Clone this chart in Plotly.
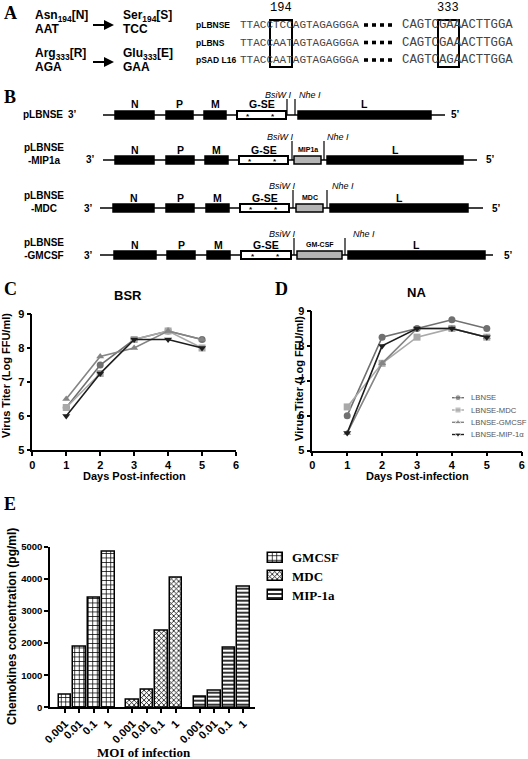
import plotly.graph_objects as go

W, H = 528, 759
def px(x): return x / W
def py(y): return 1 - y / H

# ---------------- data ----------------
days = [1, 2, 3, 4, 5]
series_names = ["LBNSE", "LBNSE-MDC", "LBNSE-GMCSF", "LBNSE-MIP-1α"]
series_colors = ["#707070", "#a9a9a9", "#858585", "#1e1e1e"]
series_symbols = ["circle", "square", "triangle-up", "triangle-down"]

bsr_lbnse = [6.25, 7.5, 8.25, 8.5, 8.25]
bsr_mdc = [6.25, 7.25, 8.25, 8.5, 8.0]
bsr_gmcsf = [6.5, 7.75, 8.0, 8.5, 8.25]
bsr_mip = [6.0, 7.25, 8.25, 8.25, 8.0]

na_lbnse = [6.0, 8.25, 8.5, 8.75, 8.5]
na_mdc = [6.25, 7.5, 8.25, 8.5, 8.25]
na_gmcsf = [5.5, 7.5, 8.5, 8.5, 8.25]
na_mip = [5.5, 8.0, 8.5, 8.5, 8.25]

moi_labels = ["0.001", "0.01", "0.1", "1"]
chemokines = ["GMCSF", "MDC", "MIP-1a"]
gmcsf_conc = [380, 1880, 3420, 4830]
mdc_conc = [250, 550, 2400, 4030]
mip1a_conc = [340, 530, 1850, 3770]

fig = go.Figure()

# ---------------- panels C and D ----------------
bsr = [bsr_lbnse, bsr_mdc, bsr_gmcsf, bsr_mip]
na = [na_lbnse, na_mdc, na_gmcsf, na_mip]
for k in range(4):
    for vals, xa, ya in [(bsr, "x", "y"), (na, "x2", "y2")]:
        fig.add_trace(go.Scatter(
            x=days, y=vals[k], mode="lines+markers", xaxis=xa, yaxis=ya,
            line=dict(color=series_colors[k], width=1.6),
            marker=dict(symbol=series_symbols[k], size=7, color=series_colors[k]),
            showlegend=False, cliponaxis=False, name=series_names[k]))

# manual legend for D (samples on overlay axis)
leg_rows = [397.7, 410, 422.3, 434.5]
for k in range(4):
    fig.add_trace(go.Scatter(
        x=[452, 458, 464], y=[leg_rows[k]] * 3, mode="lines+markers",
        xaxis="x4", yaxis="y4",
        line=dict(color=series_colors[k], width=1.4),
        marker=dict(symbol=series_symbols[k], size=[0, 6, 0], color=series_colors[k]),
        showlegend=False, hoverinfo="skip"))

# ---------------- panel E ----------------
patterns = [dict(shape="+", size=4.5, solidity=0.3, fgcolor="black", bgcolor="white"),
            dict(shape="x", size=3.5, solidity=0.4, fgcolor="black", bgcolor="white"),
            dict(shape="-", size=4, solidity=0.4, fgcolor="black", bgcolor="white")]
group_step = 4.65
all_pos, all_lab = [], []
for g, vals in enumerate([gmcsf_conc, mdc_conc, mip1a_conc]):
    pos = [g * group_step + i for i in range(len(moi_labels))]
    all_pos += pos
    all_lab += moi_labels
    fig.add_trace(go.Bar(
        x=pos, y=vals, name=chemokines[g], xaxis="x3", yaxis="y3", width=0.87,
        marker=dict(color="white", pattern=patterns[g], line=dict(color="black", width=1.5)),
        showlegend=False))

# manual legend for E (pattern swatches on overlay axis)
e_leg_rows = [557.7, 576.3, 595]
for g in range(3):
    fig.add_trace(go.Bar(
        x=[275.5], y=[10], base=[e_leg_rows[g] - 5], width=15, xaxis="x4", yaxis="y4",
        marker=dict(color="white", pattern=patterns[g], line=dict(color="black", width=1.5)),
        showlegend=False, hoverinfo="skip"))

axis_common = dict(showline=True, linecolor="black", linewidth=1.5, ticks="outside",
                   tickwidth=1.5, ticklen=4, tickcolor="black", showgrid=False,
                   zeroline=False, automargin=False,
                   tickfont=dict(family="Arial", size=11, color="black", weight="bold"))

fig.update_layout(
    template="none",
    width=W, height=H, autosize=False,
    margin=dict(l=0, r=0, t=0, b=0, pad=0, autoexpand=False),
    paper_bgcolor="white", plot_bgcolor="rgba(0,0,0,0)",
    showlegend=False,
    xaxis=dict(domain=[px(32.3), px(236)], range=[0, 6], dtick=1, anchor="y", **axis_common),
    yaxis=dict(domain=[py(450), py(314)], range=[5, 9], dtick=1, anchor="x", **axis_common),
    xaxis2=dict(domain=[px(312.3), px(521.7)], range=[0, 6], dtick=1, anchor="y2", **axis_common),
    yaxis2=dict(domain=[py(450.5), py(311)], range=[5, 9], dtick=1, anchor="x2", **axis_common),
    xaxis3=dict(domain=[px(50), px(255)], range=[-1.03, 13.1], anchor="y3",
                tickmode="array", tickvals=all_pos, ticktext=all_lab, tickangle=-45,
                **{**axis_common, "tickfont": dict(family="Arial", size=11, color="black", weight="bold")}),
    yaxis3=dict(domain=[py(707.3), py(546.7)], range=[0, 5000], dtick=1000, anchor="x3",
                **{**axis_common, "tickfont": dict(family="Arial", size=9.5, color="black", weight="bold")}),
    xaxis4=dict(domain=[0, 1], range=[0, W], visible=False, anchor="y4", automargin=False),
    yaxis4=dict(domain=[0, 1], range=[H, 0], visible=False, anchor="x4", automargin=False),
    bargap=0, barmode="overlay",
)

ann = []
shapes = []

def text(x, y, s, size=10, family="Arial", color="black", bold=True, anchor="center",
         vanchor="middle", angle=0, italic=False):
    ann.append(dict(x=px(x), y=py(y), xref="paper", yref="paper", text=s, showarrow=False,
                    xanchor=anchor, yanchor=vanchor, textangle=angle,
                    font=dict(family=family, size=size, color=color,
                              weight="bold" if bold else "normal",
                              style="italic" if italic else "normal")))

def rect(x0, y0, x1, y1, fill="black", lw=1.5, lc="black"):
    shapes.append(dict(type="rect", xref="paper", yref="paper", x0=px(x0), x1=px(x1),
                       y0=py(y0), y1=py(y1), fillcolor=fill, line=dict(color=lc, width=lw)))

def line(x0, y0, x1, y1, lw=1.5):
    shapes.append(dict(type="line", xref="paper", yref="paper", x0=px(x0), x1=px(x1),
                       y0=py(y0), y1=py(y1), line=dict(color="black", width=lw)))

# panel letters
for lab, (x, y) in zip("ABCDE", [(2, 13), (2, 97), (2, 289), (273, 289), (2, 504)]):
    text(x, y, lab, size=18, family="Liberation Serif", anchor="left")

# ---------------- panel A ----------------
text(33, 16, "Asn<sub>194</sub>[N]", size=12, anchor="left")
text(33, 29, "AAT", size=12, anchor="left")
text(121, 16, "Ser<sub>194</sub>[S]", size=12, anchor="left")
text(121, 29, "TCC", size=12, anchor="left")
text(33, 54, "Arg<sub>333</sub>[R]", size=12, anchor="left")
text(33, 67, "AGA", size=12, anchor="left")
text(121, 54, "Glu<sub>333</sub>[E]", size=12, anchor="left")
text(121, 67, "GAA", size=12, anchor="left")
for ya in [25, 62]:
    ann.append(dict(x=px(114), y=py(ya), xref="paper", yref="paper", ax=-24, ay=0,
                    text=" ", showarrow=True, arrowhead=2, arrowwidth=2, arrowsize=1,
                    arrowcolor="black"))

seq_names = ["pLBNSE", "pLBNS", "pSAD L16"]
seq_left = ["TTACCTCCAGTAGAGGGA", "TTACCAATAGTAGAGGGA", "TTACCAATAGTAGAGGGA"]
seq_right = ["CAGTCGAAACTTGGA", "CAGTCGAAACTTGGA", "CAGTCAGAACTTGGA"]
seq_y = [25, 42.5, 60]
for n, l, r, y in zip(seq_names, seq_left, seq_right, seq_y):
    text(194, y, n, size=8.5, anchor="left")
    text(238, y, l, size=11, family="Liberation Mono", color="#444", bold=False, anchor="left")
    text(400, y, r, size=12.3, family="Liberation Mono", color="#444", bold=False, anchor="left")
    for i in range(4):
        rect(364 + i * 8, y - 1.8, 368 + i * 8, y + 1.8, lw=0)
rect(270, 20, 292, 67, fill="rgba(0,0,0,0)", lw=2)
rect(438, 20, 459, 67, fill="rgba(0,0,0,0)", lw=2)
text(281, 8, "194", size=12, family="Liberation Mono", bold=False)
text(448, 8, "333", size=12, family="Liberation Mono", bold=False)

# ---------------- panel B ----------------
construct_names = ["pLBNSE", "pLBNSE<br>-MIP1a", "pLBNSE<br>-MDC", "pLBNSE<br>-GMCSF"]
row_y = [115, 160, 208, 255]
line_x = [(103, 445), (103, 477), (100, 483), (100, 493)]
N_seg = [(115, 154), (115, 154), (113, 154), (114, 156)]
P_seg = [(166, 193), (166, 194), (166, 194), (167, 195)]
M_seg = [(204, 226), (205, 228), (206, 229), (207, 230)]
G_seg = [(237, 286), (239, 288), (240, 289), (241, 291)]
ins_seg = [None, (294, 321, "MIP1a"), (296, 323, "MDC"), (297, 342, "GM-CSF")]
L_seg = [(298, 431), (327, 463), (330, 468), (348, 485)]
bsiw_x = [287, 292, 293, 294]
nhe_x = [295, 324, 327, 345]
enz_y = [95, 137, 186, 234]
bsiw_lab_x = [278, 280, 282, 282]
nhe_lab_x = [310, 338, 343, 364]
three_x = [72, 90, 88, 88]
five_x = [455, 490, 496, 508]
name_x = [43, 44, 44, 44]

for r in range(4):
    y = row_y[r]
    if r == 0:
        text(name_x[r], y, construct_names[r], size=10)
    else:
        text(name_x[r], y - 6, construct_names[r], size=10)
    text(three_x[r], y, "3’", size=10)
    text(five_x[r], y, "5’", size=10)
    line(line_x[r][0], y, line_x[r][1], y, lw=1.5)
    for seg, lab in [(N_seg[r], "N"), (P_seg[r], "P"), (M_seg[r], "M"), (L_seg[r], "L")]:
        rect(seg[0], y - 4, seg[1], y + 4)
        text((seg[0] + seg[1]) / 2, y - 10.5, lab, size=10.5)
    g0, g1 = G_seg[r]
    rect(g0, y - 4, g1, y + 4, fill="white", lw=2)
    text((g0 + g1) / 2, y - 10.5, "G-SE", size=10.5)
    for f in (0.23, 0.73):
        text(g0 + f * (g1 - g0), y + 1.5, "*", size=8)
    if ins_seg[r] is not None:
        a, b, lab = ins_seg[r]
        rect(a, y - 4, b, y + 4, fill="#b4b4b4", lw=1.5)
        text((a + b) / 2, y - 10.5, lab, size=7)
    line(bsiw_x[r], enz_y[r] + 4, bsiw_x[r], y, lw=1.2)
    line(nhe_x[r], enz_y[r] + 4, nhe_x[r], y, lw=1.2)
    text(bsiw_lab_x[r], enz_y[r], "BsiW I", size=9, bold=False, italic=True)
    text(nhe_lab_x[r], enz_y[r], "Nhe I", size=9, bold=False, italic=True)

# ---------------- titles C/D/E ----------------
text(128, 295, "BSR", size=13)
text(416, 292, "NA", size=13)
text(134, 476, "Days Post-infection", size=11)
text(417, 476, "Days Post-infection", size=11)
text(6, 376, "Virus Titer (Log FFU/ml)", size=11, angle=-90)
text(299, 379, "Virus Titer (Log FFU/ml)", size=11, angle=-90)
for k, yy in enumerate(leg_rows):
    text(469, yy, series_names[k], size=7.7, color="#555", bold=False, anchor="left")
for g, yy in enumerate(e_leg_rows):
    text(290, yy, chemokines[g], size=13, family="Liberation Serif", anchor="left")

text(12, 627, "Chemokines concentration (pg/ml)", size=12, angle=-90)
text(144, 752, "MOI of infection", size=13, family="Liberation Serif")

fig.update_layout(annotations=ann, shapes=shapes)
fig.write_html("out.html", config={"displayModeBar": False},
               post_script="document.body.style.margin='0';document.body.style.padding='0';"
                           "document.documentElement.style.overflow='hidden';")
